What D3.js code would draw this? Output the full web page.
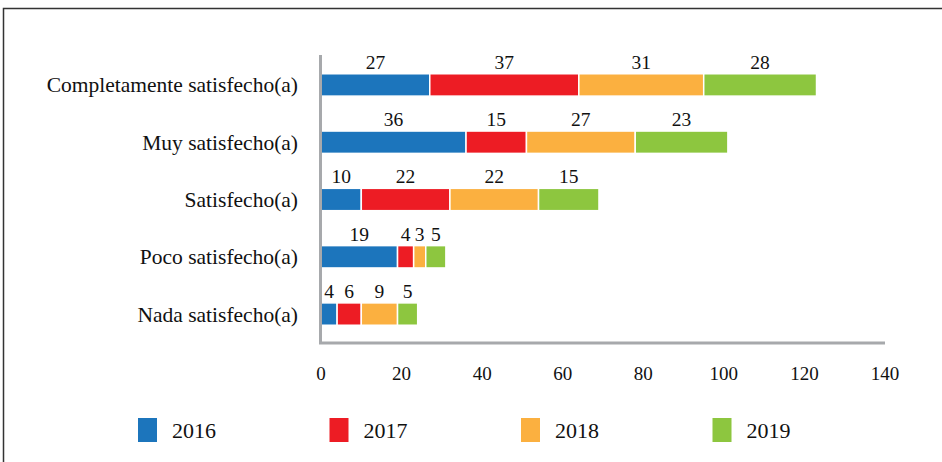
<!DOCTYPE html>
<html>
<head>
<meta charset="utf-8">
<script src="https://cdn.jsdelivr.net/npm/d3@7"></script>
<style>
  body { margin: 0; background: #fff; }
</style>
</head>
<body>
<div id="chart"></div>
<script>
// chart data
const categories = ["Completamente satisfecho(a)", "Muy satisfecho(a)", "Satisfecho(a)", "Poco satisfecho(a)", "Nada satisfecho(a)"];
const years = ["2016", "2017", "2018", "2019"];
const v2016 = [27, 36, 10, 19, 4];
const v2017 = [37, 15, 22, 4, 6];
const v2018 = [31, 27, 22, 3, 9];
const v2019 = [28, 23, 15, 5, 5];
const colors = ["#1c75bc", "#ed1c24", "#fbb040", "#8dc63f"];
const xTicks = [0, 20, 40, 60, 80, 100, 120, 140];

const width = 942, height = 462;
const serif = "'Liberation Serif', 'Times New Roman', Times, 'DejaVu Serif', 'Noto Serif', serif";

const svg = d3.select("#chart").append("svg")
    .attr("width", width)
    .attr("height", height)
    .attr("font-family", serif)
    .style("display", "block");

// frame (top and left edge only)
svg.append("path")
    .attr("d", `M3.5,${height} V8.5 H${width}`)
    .attr("fill", "none")
    .attr("stroke", "#333")
    .attr("stroke-width", 1.5);

const table = categories.map((c, i) => ({
    cat: c, "2016": v2016[i], "2017": v2017[i], "2018": v2018[i], "2019": v2019[i]
}));
const series = d3.stack().keys(years)(table);

const x = d3.scaleLinear().domain([0, 140]).range([321, 885]);
const y = d3.scaleBand().domain(categories).range([56, 343]).paddingInner(0.61).paddingOuter(0.31);

// bars
const groups = svg.append("g").selectAll("g")
    .data(series)
    .join("g")
    .attr("fill", (d, i) => colors[i]);

groups.selectAll("rect")
    .data(d => d)
    .join("rect")
    .attr("x", d => x(d[0]))
    .attr("y", d => y(d.data.cat))
    .attr("width", d => x(d[1]) - x(d[0]))
    .attr("height", y.bandwidth())
    .attr("stroke", "#fff")
    .attr("stroke-width", 1.5);

// value labels
groups.selectAll("text")
    .data(d => d.map(p => ({ p, v: p[1] - p[0] })))
    .join("text")
    .attr("x", d => (x(d.p[0]) + x(d.p[1])) / 2)
    .attr("y", d => y(d.p.data.cat) - 5)
    .attr("text-anchor", "middle")
    .attr("fill", "#111")
    .attr("font-size", 19.5)
    .text(d => d.v);

// axes lines
svg.append("line")
    .attr("x1", 320.5).attr("x2", 320.5)
    .attr("y1", 55).attr("y2", 344)
    .attr("stroke", "#a7a9ac").attr("stroke-width", 3);
svg.append("line")
    .attr("x1", 319).attr("x2", x(140))
    .attr("y1", 343).attr("y2", 343)
    .attr("stroke", "#a7a9ac").attr("stroke-width", 3);

// category labels
svg.append("g").selectAll("text")
    .data(categories)
    .join("text")
    .attr("x", 298)
    .attr("y", d => y(d) + y.bandwidth() / 2)
    .attr("dy", "0.35em")
    .attr("text-anchor", "end")
    .attr("font-size", 21.5)
    .attr("fill", "#111")
    .text(d => d);

// x tick labels
svg.append("g").selectAll("text")
    .data(xTicks)
    .join("text")
    .attr("x", d => x(d))
    .attr("y", 373)
    .attr("dy", "0.35em")
    .attr("text-anchor", "middle")
    .attr("font-size", 19)
    .attr("fill", "#111")
    .text(d => d);

// legend
const legend = svg.append("g").selectAll("g")
    .data(years)
    .join("g")
    .attr("transform", (d, i) => `translate(${138 + i * 191.5},418)`);
legend.append("rect")
    .attr("width", 19).attr("height", 24)
    .attr("fill", (d, i) => colors[i]);
legend.append("text")
    .attr("x", 34)
    .attr("y", 12)
    .attr("dy", "0.35em")
    .attr("font-size", 22)
    .attr("fill", "#111")
    .text(d => d);
</script>
</body>
</html>
